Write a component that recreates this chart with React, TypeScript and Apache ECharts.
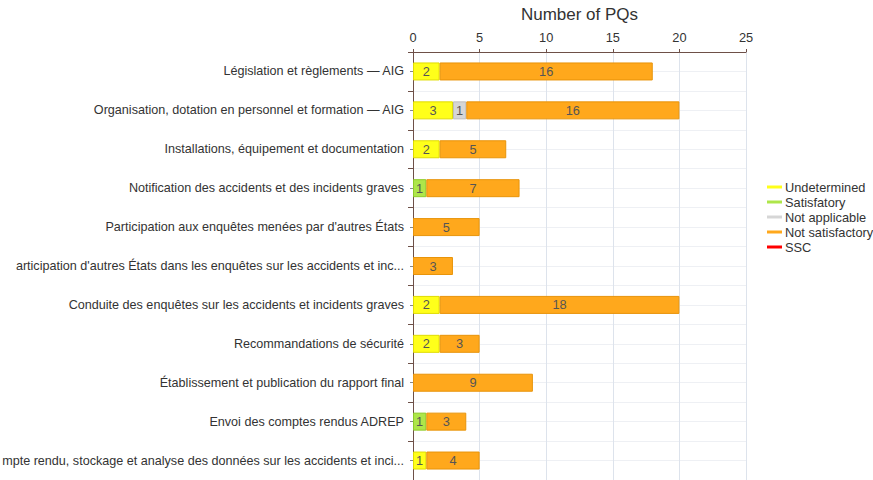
import React, { useEffect, useRef } from "react";
import * as echarts from "echarts";

const categories = [
  "Législation et règlements — AIG",
  "Organisation, dotation en personnel et formation — AIG",
  "Installations, équipement et documentation",
  "Notification des accidents et des incidents graves",
  "Participation aux enquêtes menées par d'autres États",
  "articipation d'autres États dans les enquêtes sur les accidents et inc...",
  "Conduite des enquêtes sur les accidents et incidents graves",
  "Recommandations de sécurité",
  "Établissement et publication du rapport final",
  "Envoi des comptes rendus ADREP",
  "mpte rendu, stockage et analyse des données sur les accidents et inci...",
];

const undetermined = [2, 3, 2, null, null, null, 2, 2, null, null, 1];
const satisfactory = [null, null, null, 1, null, null, null, null, null, 1, null];
const notApplicable = [null, 1, null, null, null, null, null, null, null, null, null];
const notSatisfactory = [16, 16, 5, 7, 5, 3, 18, 3, 9, 3, 4];
const ssc = [null, null, null, null, null, null, null, null, null, null, null];

const xTicks = [0, 5, 10, 15, 20, 25];

const seriesDefs = [
  { name: "Undetermined", data: undetermined, color: "#ffff1a", border: "#e0dc00" },
  { name: "Satisfatory", data: satisfactory, color: "#aee64a", border: "#8ecb2a" },
  { name: "Not applicable", data: notApplicable, color: "#d6d6d6", border: "#bdbdbd" },
  { name: "Not satisfactory", data: notSatisfactory, color: "#ffa81c", border: "#e8940a" },
  { name: "SSC", data: ssc, color: "#ff0000", border: "#d00000" },
];

export default function App() {
  const ref = useRef<HTMLDivElement>(null);
  useEffect(() => {
    if (!ref.current) return;
    const chart = echarts.init(ref.current, null, { renderer: "svg" });
    const minorCats = Array.from({ length: categories.length * 2 }, (_, i) => String(i));
    chart.setOption({
      animation: false,
      textStyle: { fontFamily: "Liberation Sans, Arial, sans-serif" },
      grid: { left: 413, top: 52, width: 333, height: 428, outerBoundsMode: "none", containLabel: false },
      legend: {
        orient: "vertical",
        left: 762,
        top: 175,
        icon: "rect",
        itemWidth: 15,
        itemHeight: 3,
        itemGap: 1,
        itemStyle: { borderWidth: 0 },
        textStyle: { fontSize: 12.8, color: "#333", lineHeight: 14, padding: [0, 0, 0, -2] },
        data: seriesDefs.map((s) => s.name),
      },
      xAxis: {
        type: "value",
        position: "top",
        min: 0,
        max: xTicks[xTicks.length - 1],
        interval: 5,
        name: "Number of PQs",
        nameLocation: "middle",
        nameGap: 29,
        nameTextStyle: { fontSize: 17, color: "#333" },
        axisLine: { show: true, lineStyle: { color: "#6e5048", width: 1 } },
        axisTick: { show: true, length: 3, lineStyle: { color: "#6e5048" } },
        axisLabel: { fontSize: 12.8, color: "#333", margin: 8 },
        splitLine: { show: true, lineStyle: { color: "#dde3ec", width: 1 } },
      },
      yAxis: [
        {
          type: "category",
          data: categories,
          inverse: true,
          position: "left",
          axisLine: { show: true, lineStyle: { color: "#6e5048", width: 1 } },
          axisTick: { show: true, alignWithLabel: true, length: 3, lineStyle: { color: "#888" } },
          axisLabel: { fontSize: 12.6, color: "#333", margin: 9 },
          splitLine: { show: false },
        },
        {
          type: "category",
          data: minorCats,
          inverse: true,
          position: "right",
          offset: -333,
          axisLine: { show: false },
          axisLabel: { show: false },
          axisTick: {
            show: true,
            inside: true,
            length: 5,
            interval: (i: number) => i % 2 === 0,
            lineStyle: { color: "#6e5048" },
          },
          splitLine: { show: true, lineStyle: { color: "#eef0f4", width: 1 } },
        },
      ],
      series: seriesDefs.map((s) => ({
        name: s.name,
        type: "bar",
        stack: "total",
        yAxisIndex: 0,
        barWidth: 18,
        data: s.data,
        itemStyle: { color: s.color, borderColor: s.border, borderWidth: 1 },
        label: {
          show: true,
          position: "inside",
          fontSize: 12.8,
          color: "#555",
          formatter: (p: any) => (p.value ? String(p.value) : ""),
        },
      })),
    });
    return () => chart.dispose();
  }, []);
  return (
    <div
      ref={ref}
      style={{ position: "absolute", left: 0, top: 0, width: 873, height: 480, background: "#fff" }}
    />
  );
}
